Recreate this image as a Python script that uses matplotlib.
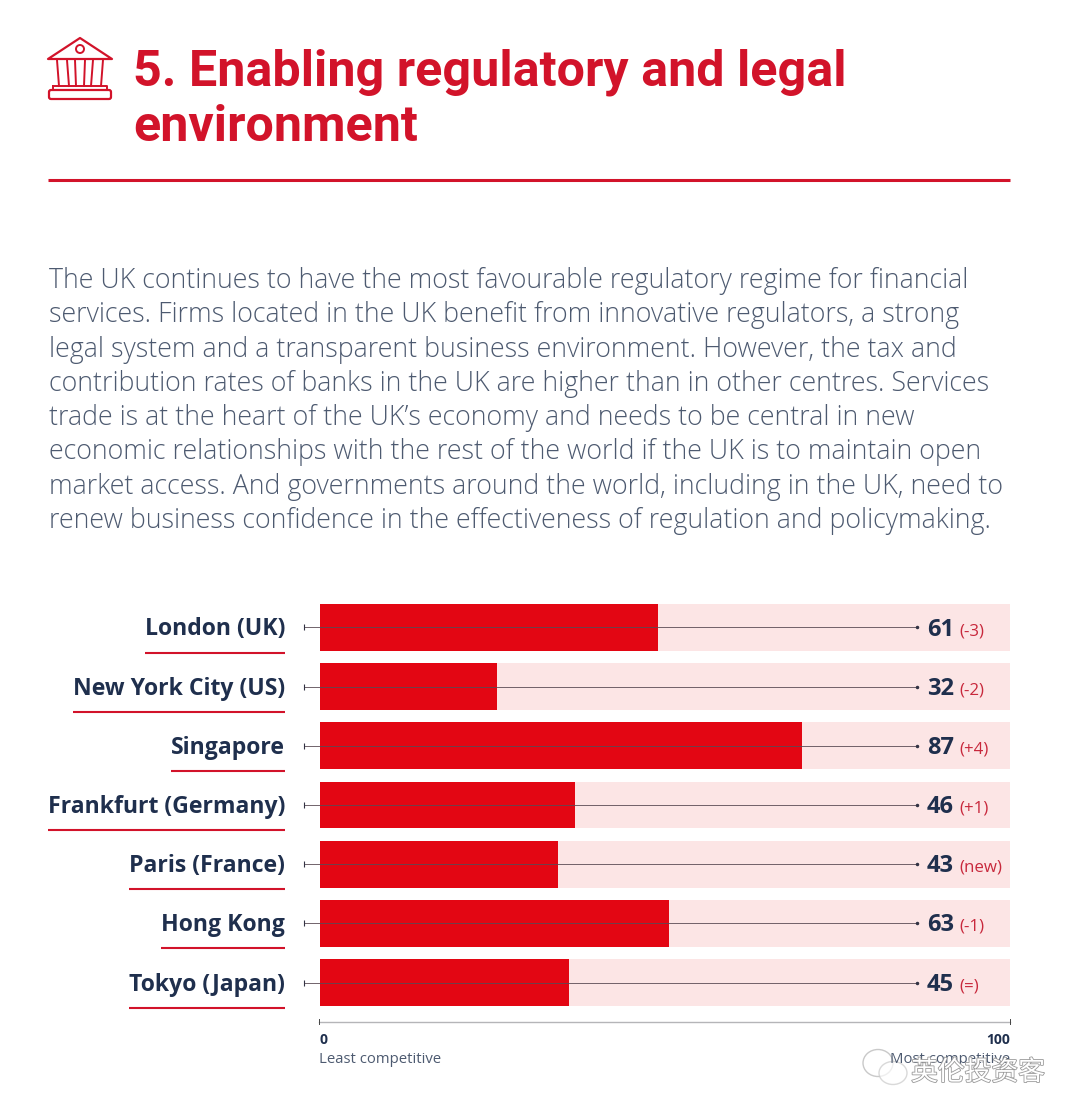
import matplotlib
matplotlib.use("Agg")
import matplotlib.pyplot as plt
import matplotlib.patheffects as pe
from matplotlib.patches import Circle, Polygon, FancyBboxPatch, Ellipse

cities = ["London (UK)", "New York City (US)", "Singapore", "Frankfurt (Germany)",
          "Paris (France)", "Hong Kong", "Tokyo (Japan)"]
scores = [61, 32, 87, 46, 43, 63, 45]
changes = ["(-3)", "(-2)", "(+4)", "(+1)", "(new)", "(-1)", "(=)"]
title_lines = ["5. Enabling regulatory and legal", "environment"]
body_lines = [
    "The UK continues to have the most favourable regulatory regime for financial",
    "services. Firms located in the UK benefit from innovative regulators, a strong",
    "legal system and a transparent business environment. However, the tax and",
    "contribution rates of banks in the UK are higher than in other centres. Services",
    "trade is at the heart of the UK\u2019s economy and needs to be central in new",
    "economic relationships with the rest of the world if the UK is to maintain open",
    "market access. And governments around the world, including in the UK, need to",
    "renew business confidence in the effectiveness of regulation and policymaking.",
]

RED = "#e30613"
DARKRED = "#d2132a"
PINK = "#fce5e5"
NAVY = "#1f2f4d"
SLATE = "#4d5a70"
W, H = 1080, 1118

fig = plt.figure(figsize=(W / 100, H / 100), dpi=100)

# page layer in pixel coordinates, on top of the bars
page = fig.add_axes([0, 0, 1, 1], zorder=2)
page.set_xlim(0, W)
page.set_ylim(H, 0)
page.axis("off")

# icon
page.add_patch(Polygon([(48, 59), (80, 38), (112, 59)], closed=True, fill=False, ec=DARKRED, lw=1.6, joinstyle="round"))
page.add_patch(Circle((80, 49), 4, fill=False, ec=DARKRED, lw=1.4))
for cx0, cx1 in [(57, 59), (67, 69), (75, 76), (85, 84), (93, 91), (103, 101)]:
    page.plot([cx0, cx1], [60, 86], color=DARKRED, lw=1.4)
page.plot([53, 107, 107, 53, 53], [86, 86, 90, 90, 86], color=DARKRED, lw=1.4)
page.add_patch(FancyBboxPatch((49, 90), 62, 9, boxstyle="round,pad=0,rounding_size=2", fill=False, ec=DARKRED, lw=1.6))

# heading
for txt, y in zip(title_lines, [85, 141]):
    page.text(133, y, txt, color=DARKRED, fontsize=36.2, fontweight="bold", family="Roboto", va="baseline")
page.plot([48, 1010], [180, 180], color=DARKRED, lw=2.2, solid_capstyle="butt")

# paragraph
for txt, y in zip(body_lines, [288, 322, 357, 391, 425, 459, 494, 528]):
    page.text(49, y, txt, color=SLATE, fontsize=19.25, fontweight="light", family="Open Sans", va="baseline")

# chart: 5.54 px per score point, pink track runs past 100
ax = fig.add_axes([320 / W, 1 - 1012.1 / H, 690 / W, 414.2 / H], zorder=1)
ax.set_xlim(0, 690 / 5.54)
ax.set_ylim(6.5, -0.5)
ax.axis("off")
rows = range(len(cities))
ax.barh(rows, [690 / 5.54] * len(cities), height=0.79, color=PINK)
ax.barh(rows, scores, height=0.79, color=RED)
ax.hlines(rows, -2.9, 107.8, color="#5a4a54", lw=0.6, clip_on=False)
ax.plot([107.8] * 7, rows, ls="", marker="o", ms=1.5, color="#333344", clip_on=False)
ax.plot([-2.9] * 7, rows, ls="", marker="|", ms=4, mew=0.8, color="#333344", clip_on=False)

fig.canvas.draw()
rend = fig.canvas.get_renderer()
for i, (city, score, chg) in enumerate(zip(cities, scores, changes)):
    yc = 627.5 + i * 59.17
    t = page.text(285, yc + 8, city, ha="right", va="baseline", color=NAVY, fontsize=16.6,
                  fontweight="bold", family="Open Sans")
    bb = t.get_window_extent(rend)
    page.plot([bb.x0, 285], [yc + 25, yc + 25], color=DARKRED, lw=1.5, solid_capstyle="butt")
    page.text(927, yc + 8, str(score), color=NAVY, fontsize=17, fontweight="bold", family="Open Sans", va="baseline")
    page.text(959, yc + 7.5, chg, color="#c8283c", fontsize=12.2, family="Open Sans", va="baseline")

# scale under the bars
page.plot([319, 1010], [1021.5, 1021.5], color="#b5b5b8", lw=1)
page.plot([319, 319], [1019, 1024], color="#444444", lw=0.7)
page.plot([1010, 1010], [1019, 1024], color="#444444", lw=0.7)
page.text(319, 1044, "0", color=NAVY, fontsize=10, fontweight="bold", family="Open Sans", va="baseline")
page.text(1010, 1044, "100", color=NAVY, fontsize=10, fontweight="bold", family="Open Sans", va="baseline", ha="right")
page.text(319, 1063, "Least competitive", color=SLATE, fontsize=10.7, family="Open Sans", va="baseline")
page.text(1010, 1063, "Most competitive", color=SLATE, fontsize=10.7, family="Open Sans", va="baseline", ha="right")

# watermark
page.add_patch(Ellipse((878, 1063), 30, 27, fc="none", ec="#c9c9c9", lw=1))
page.add_patch(Ellipse((893, 1073), 28, 23, fc="white", ec="#c9c9c9", lw=1, alpha=0.7))
wm = page.text(911, 1080, "\u82f1\u4f26\u6295\u8d44\u5ba2", color="white", fontsize=19.3, family="Noto Sans CJK SC", va="baseline")
wm.set_path_effects([pe.withStroke(linewidth=1.2, foreground="#9a9a9a")])

fig.savefig("out.png", dpi=100)
